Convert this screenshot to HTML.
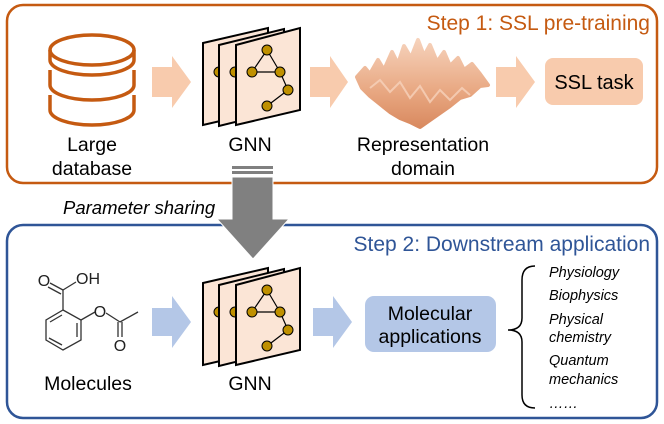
<!DOCTYPE html>
<html><head><style>
body{margin:0;background:#fff}
svg{display:block}
text{font-family:"Liberation Sans",Arial,sans-serif}
</style></head><body>
<svg width="664" height="424" viewBox="0 0 664 424" xmlns="http://www.w3.org/2000/svg">
<defs>
<linearGradient id="rg" x1="0" y1="0" x2="0" y2="1">
<stop offset="0" stop-color="#f6d2bb"/><stop offset="0.6" stop-color="#e8a781"/><stop offset="1" stop-color="#d98a60"/>
</linearGradient>
<g id="gnn">
<polygon points="203,43 268,28 268,110 203,125" fill="#fbe5d6" stroke="#000" stroke-width="2"/>
<circle cx="219" cy="72" r="5" fill="#bf9000" stroke="#000" stroke-width="1"/>
<polygon points="219,45 284,29 284,110 219,126" fill="#fbe5d6" stroke="#000" stroke-width="2"/>
<circle cx="235" cy="72" r="5" fill="#bf9000" stroke="#000" stroke-width="1"/>
<polygon points="236,45 300,28 300,110 236,125" fill="#fbe5d6" stroke="#000" stroke-width="2"/>
<g stroke="#000" stroke-width="1.2">
<line x1="267" y1="50" x2="252" y2="72"/><line x1="267" y1="50" x2="280" y2="72"/>
<line x1="252" y1="72" x2="280" y2="72"/><line x1="280" y1="72" x2="288" y2="90"/>
<line x1="288" y1="90" x2="267" y2="106"/></g>
<g fill="#bf9000" stroke="#000" stroke-width="1">
<circle cx="267" cy="50" r="5"/><circle cx="252" cy="72" r="5"/><circle cx="280" cy="72" r="5"/>
<circle cx="288" cy="90" r="5"/><circle cx="267" cy="106" r="5"/></g>
</g>
</defs>

<rect x="7" y="5" width="650" height="178" rx="16" fill="none" stroke="#c55a11" stroke-width="2.5"/>
<text x="650" y="30" font-size="21" fill="#c55a11" text-anchor="end">Step 1: SSL pre-training</text>

<g fill="none" stroke="#c55a11" stroke-width="3.5">
<ellipse cx="92" cy="50" rx="42" ry="15"/>
<path d="M50,50 V60 A42,15 0 0 0 134,60 V50"/>
<path d="M50,70 V85 A42,15 0 0 0 134,85 V70"/>
<path d="M50,95 V110 A42,15 0 0 0 134,110 V95"/>
</g>
<text x="92" y="151" font-size="19.5" text-anchor="middle">Large</text>
<text x="92" y="175" font-size="19.5" text-anchor="middle">database</text>

<polygon points="152,67 172,67 172,56 191,82 172,108 172,97 152,97" fill="#f8cbad"/>
<use href="#gnn"/>
<text x="250" y="151" font-size="19.5" text-anchor="middle">GNN</text>
<polygon points="310,67 330,67 330,56 348,82 330,108 330,97 310,97" fill="#f8cbad"/>

<path d="M357,77 L365,68 L370,74 L378,60 L384,70 L392,52 L398,64 L404,46 L411,58 L418,40 L424,56 L430,45 L437,62 L444,52 L450,66 L458,58 L464,70 L472,64 L480,74 L488,85 L480,86 L470,95 L460,98 L450,106 L440,113 L430,120 L420,127 L410,122 L400,118 L390,112 L380,104 L370,96 L362,88 Z" fill="url(#rg)" stroke="url(#rg)" stroke-width="4" stroke-linejoin="round"/>
<path d="M370,88 L380,80 L390,92 L400,82 L410,98 L420,86 L430,102 L440,90 L450,100 L462,88 L470,95" fill="none" stroke="#f6d2bb" stroke-width="2" opacity="0.8"/>
<text x="423" y="151" font-size="19.5" text-anchor="middle">Representation</text>
<text x="423" y="175" font-size="19.5" text-anchor="middle">domain</text>

<polygon points="496,67 516,67 516,56 535,82 516,108 516,97 496,97" fill="#f8cbad"/>
<rect x="545" y="58" width="98" height="47" rx="8" fill="#f8cbad"/>
<text x="594" y="89" font-size="20" text-anchor="middle">SSL task</text>

<rect x="7" y="225" width="650" height="193" rx="16" fill="none" stroke="#2f5597" stroke-width="2.5"/>
<text x="650" y="251" font-size="21" fill="#2f5597" text-anchor="end">Step 2: Downstream application</text>

<rect x="232" y="166" width="41" height="3" fill="#808080"/>
<rect x="232" y="171" width="41" height="3" fill="#808080"/>
<polygon points="232,177 273,177 273,219 289,219 253,259 217,219 232,219" fill="#808080" stroke="#fff" stroke-width="1"/>
<text x="63" y="214" font-size="18.5" font-style="italic">Parameter sharing</text>

<g stroke="#333" stroke-width="1.3" fill="none">
<polygon points="63,310 81,320 81,340 63,350 46,340 46,320"/>
<line x1="77" y1="323" x2="77" y2="337"/><line x1="62" y1="345" x2="49" y2="338"/><line x1="50" y1="322" x2="62" y2="315"/>
<line x1="63" y1="310" x2="63" y2="290"/>
<line x1="63" y1="290" x2="50" y2="283"/><line x1="61" y1="294" x2="48" y2="287"/>
<line x1="63" y1="290" x2="76" y2="282"/>
<line x1="81" y1="320" x2="95" y2="312"/>
<line x1="106" y1="313" x2="120" y2="322"/>
<line x1="120" y1="322" x2="138" y2="312"/>
<line x1="118" y1="322" x2="118" y2="337"/><line x1="122" y1="322" x2="122" y2="337"/>
</g>
<g font-size="16" fill="#222">
<text x="44" y="286" text-anchor="middle">O</text>
<text x="88" y="284" text-anchor="middle">OH</text>
<text x="100" y="317" text-anchor="middle">O</text>
<text x="120" y="351" text-anchor="middle">O</text>
</g>
<text x="88" y="390" font-size="19.5" text-anchor="middle">Molecules</text>

<polygon points="152,308 172,308 172,296 191,322 172,348 172,336 152,336" fill="#b4c7e7"/>
<use href="#gnn" y="240"/>
<text x="250" y="390" font-size="19.5" text-anchor="middle">GNN</text>
<polygon points="313,308 333,308 333,296 352,322 333,348 333,336 313,336" fill="#b4c7e7"/>
<rect x="365" y="296" width="131" height="56" rx="9" fill="#b4c7e7"/>
<text x="430" y="320" font-size="19.5" text-anchor="middle">Molecular</text>
<text x="430" y="343" font-size="19.5" text-anchor="middle">applications</text>

<path d="M535,266 Q522,266 522,280 L522,318 Q522,330 508,330 Q522,330 522,342 L522,395 Q522,408 535,408" fill="none" stroke="#000" stroke-width="1.5"/>
<g font-size="14.5" font-style="italic">
<text x="549" y="277">Physiology</text>
<text x="549" y="300">Biophysics</text>
<text x="549" y="324">Physical</text>
<text x="549" y="342">chemistry</text>
<text x="549" y="365">Quantum</text>
<text x="549" y="384">mechanics</text>
<text x="549" y="408">……</text>
</g>
</svg>
</body></html>
